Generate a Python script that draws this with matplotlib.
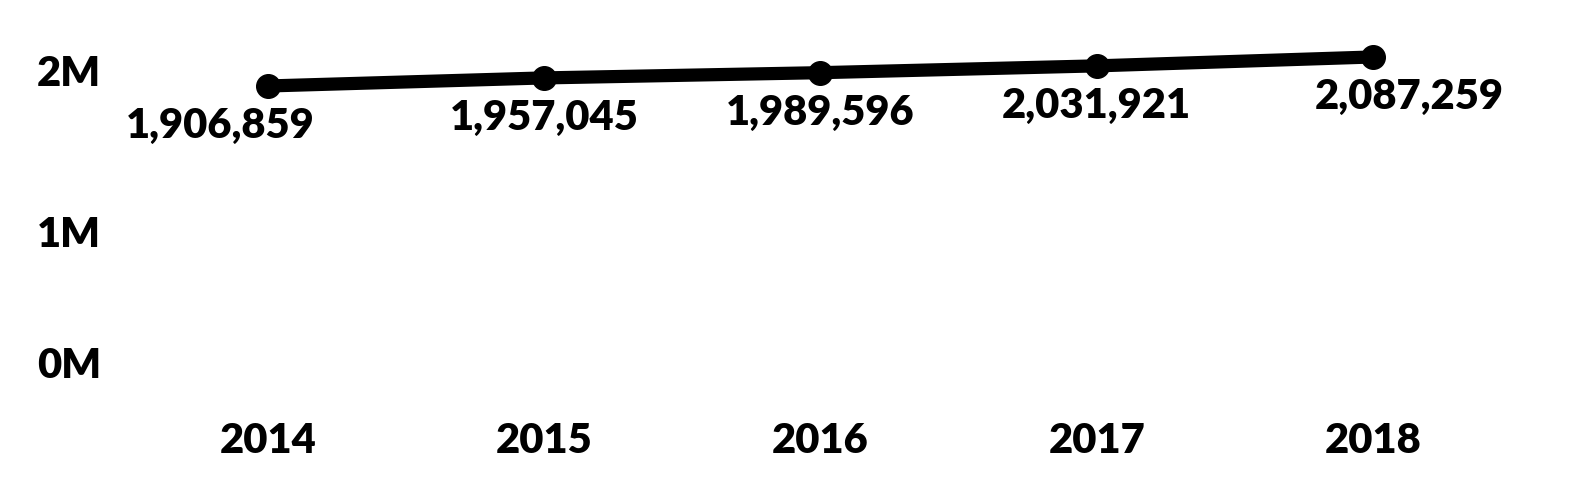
import matplotlib
matplotlib.use("Agg")
import matplotlib.pyplot as plt
import matplotlib.transforms as mtrans

years = [2014, 2015, 2016, 2017, 2018]
values = [1906859, 1957045, 1989596, 2031921, 2087259]
ytick_vals = [0, 1000000, 2000000]
ytick_labels = ["0M", "1M", "2M"]

plt.rcParams['font.family'] = ['Lato', 'DejaVu Sans']
plt.rcParams['font.weight'] = 'heavy'

W, H = 1582, 495
pxM = 160.8
bottom_px = 392.6
left_px = 130
width_px = 1381
fig = plt.figure(figsize=(W/100, H/100), dpi=100)
ax = fig.add_axes([left_px/W, (H-bottom_px)/H, width_px/W, 2.3*pxM/H])
ax.plot(years, values, color='black', lw=9.5, marker='o', markersize=17, solid_capstyle='round')
ax.set_xlim(2013.5, 2018.5)
ax.set_ylim(0, 2300000)
ax.set_xticks(years)
ax.set_xticklabels([str(y) for y in years])
ax.set_yticks(ytick_vals)
ax.set_yticklabels(ytick_labels)
ax.tick_params(axis='both', length=0, labelsize=30)
ax.tick_params(axis='y', pad=21)
ax.tick_params(axis='x', pad=21)
for sp in ax.spines.values():
    sp.set_visible(False)

dx = [-48, 0, 0, 0, 36]
for x, v, d in zip(years, values, dx):
    ax.annotate(f"{v:,}", (x, v), xytext=(d*0.72, -40*0.72), textcoords='offset points',
                ha='center', va='center', fontsize=30, fontweight='heavy')

fig.canvas.draw()
lab0 = ax.yaxis.get_major_ticks()[0].label1
lab0.set_transform(lab0.get_transform() + mtrans.ScaledTranslation(0, 30/100, fig.dpi_scale_trans))

fig.savefig("out.png", dpi=100)
